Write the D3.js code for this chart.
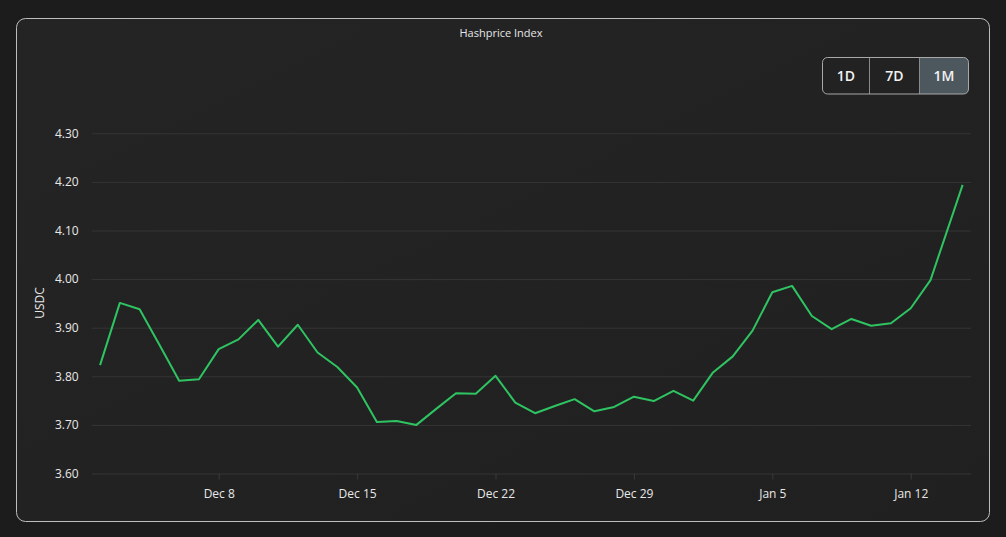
<!DOCTYPE html>
<html>
<head>
<meta charset="utf-8">
<script src="https://cdn.jsdelivr.net/npm/d3@7"></script>
<style>
  html, body { margin: 0; padding: 0; background: #1c1c1c; }
  svg { display: block; }
  text { font-family: "Open Sans", "DejaVu Sans", sans-serif; }
</style>
</head>
<body>
<svg id="chart" width="1006" height="537"></svg>
<script>
// ---- data ----
const dates = [
  "2024-12-02","2024-12-03","2024-12-04","2024-12-05","2024-12-06","2024-12-07",
  "2024-12-08","2024-12-09","2024-12-10","2024-12-11","2024-12-12","2024-12-13",
  "2024-12-14","2024-12-15","2024-12-16","2024-12-17","2024-12-18","2024-12-19",
  "2024-12-20","2024-12-21","2024-12-22","2024-12-23","2024-12-24","2024-12-25",
  "2024-12-26","2024-12-27","2024-12-28","2024-12-29","2024-12-30","2024-12-31",
  "2025-01-01","2025-01-02","2025-01-03","2025-01-04","2025-01-05","2025-01-06",
  "2025-01-07","2025-01-08","2025-01-09","2025-01-10","2025-01-11","2025-01-12",
  "2025-01-13","2025-01-14T15:00"
];
const hashprice = [
  3.823, 3.951, 3.938, 3.865, 3.791, 3.794,
  3.856, 3.876, 3.916, 3.861, 3.906, 3.849,
  3.819, 3.777, 3.706, 3.708, 3.700, 3.733,
  3.765, 3.764, 3.801, 3.746, 3.724, 3.739,
  3.753, 3.728, 3.737, 3.758, 3.749, 3.770,
  3.750, 3.808, 3.841, 3.894, 3.973, 3.986,
  3.924, 3.897, 3.918, 3.904, 3.909, 3.940,
  3.998, 4.194
];
const yTicks = [3.60, 3.70, 3.80, 3.90, 4.00, 4.10, 4.20, 4.30];
const xTickDates = ["2024-12-08","2024-12-15","2024-12-22","2024-12-29","2025-01-05","2025-01-12"];
const xDomain = ["2024-12-01T13:50", "2025-01-15T01:10"];
const ranges = ["1D", "7D", "1M"];
const activeRange = "1M";
const title = "Hashprice Index";
const yLabel = "USDC";

// ---- drawing ----
const parse = s => new Date(s);
const svg = d3.select("#chart");
const W = 1006, H = 537;

const defs = svg.append("defs");
const grad = defs.append("linearGradient").attr("id", "cardGrad")
  .attr("x1", "0").attr("y1", "0").attr("x2", "1").attr("y2", "1");
grad.append("stop").attr("offset", "0%").attr("stop-color", "#242424");
grad.append("stop").attr("offset", "100%").attr("stop-color", "#202020");

// card
svg.append("rect")
  .attr("x", 16.5).attr("y", 18.5).attr("width", 973).attr("height", 503)
  .attr("rx", 9).attr("ry", 9)
  .attr("fill", "url(#cardGrad)")
  .attr("stroke", "#bdbdbd").attr("stroke-width", 1);

// title
svg.append("text")
  .attr("x", 501).attr("y", 37)
  .attr("text-anchor", "middle")
  .attr("fill", "#e6e6e6").attr("font-size", 11)
  .text(title);

const margin = { left: 91.7, right: 971, top: 133.3, bottom: 473.5 };

const x = d3.scaleTime()
  .domain(xDomain.map(parse))
  .range([margin.left, margin.right]);
const y = d3.scaleLinear()
  .domain([3.60, 4.30])
  .range([margin.bottom, margin.top]);

// y grid + labels
const yAxis = d3.axisLeft(y)
  .tickValues(yTicks)
  .tickSize(-(margin.right - margin.left))
  .tickPadding(13)
  .tickFormat(d3.format(".2f"));
const gy = svg.append("g")
  .attr("transform", `translate(${margin.left},0)`)
  .call(yAxis);
gy.select(".domain").remove();
gy.selectAll(".tick line").attr("stroke", "#353535").attr("stroke-width", 1);
gy.selectAll(".tick text")
  .attr("fill", "#e8e8e8").attr("font-size", 12)
  .attr("font-family", "\"Open Sans\", sans-serif");

// x axis
const xAxis = d3.axisBottom(x)
  .tickValues(xTickDates.map(parse))
  .tickSize(6)
  .tickPadding(10)
  .tickFormat(d3.timeFormat("%b %-d"));
const gx = svg.append("g")
  .attr("transform", `translate(0,${margin.bottom})`)
  .call(xAxis);
gx.select(".domain").remove();
gx.selectAll(".tick line").attr("stroke", "#3a3a3a");
gx.selectAll(".tick text")
  .attr("fill", "#e8e8e8").attr("font-size", 12)
  .attr("font-family", "\"Open Sans\", sans-serif");

// y label
svg.append("text")
  .attr("transform", `translate(44,303) rotate(-90)`)
  .attr("text-anchor", "middle")
  .attr("fill", "#e8e8e8").attr("font-size", 12)
  .text(yLabel);

// line
const data = dates.map((d, i) => ({ date: parse(d), value: hashprice[i] }));
const line = d3.line().x(d => x(d.date)).y(d => y(d.value));
svg.append("path")
  .datum(data)
  .attr("d", line)
  .attr("fill", "none")
  .attr("stroke", "#2fc462")
  .attr("stroke-width", 2)
  .attr("stroke-linejoin", "round");

// range buttons
const bx = 822.5, by = 57.5, bh = 36.5;
const bw = [47, 50, 49];
const btn = svg.append("g");
let cx = bx;
ranges.forEach((r, i) => {
  const w = bw[i];
  if (r === activeRange) {
    btn.append("path")
      .attr("d", (() => {
        const x0 = cx, x1 = cx + w, y0 = by, y1 = by + bh, rr = 5;
        if (i === ranges.length - 1) {
          return `M${x0},${y0} H${x1 - rr} Q${x1},${y0} ${x1},${y0 + rr} V${y1 - rr} Q${x1},${y1} ${x1 - rr},${y1} H${x0} Z`;
        }
        return `M${x0},${y0} H${x1} V${y1} H${x0} Z`;
      })())
      .attr("fill", "#4d585e");
  }
  btn.append("text")
    .attr("x", cx + w / 2).attr("y", by + bh / 2 + 5)
    .attr("text-anchor", "middle")
    .attr("fill", "#f2f2f2").attr("font-size", 14).attr("font-weight", 600)
    .text(r);
  if (i > 0) {
    btn.append("line")
      .attr("x1", cx).attr("x2", cx).attr("y1", by).attr("y2", by + bh)
      .attr("stroke", "#8a8a8a");
  }
  cx += w;
});
btn.append("rect")
  .attr("x", bx).attr("y", by).attr("width", cx - bx).attr("height", bh)
  .attr("rx", 5).attr("fill", "none").attr("stroke", "#a8a8a8");
</script>
</body>
</html>
